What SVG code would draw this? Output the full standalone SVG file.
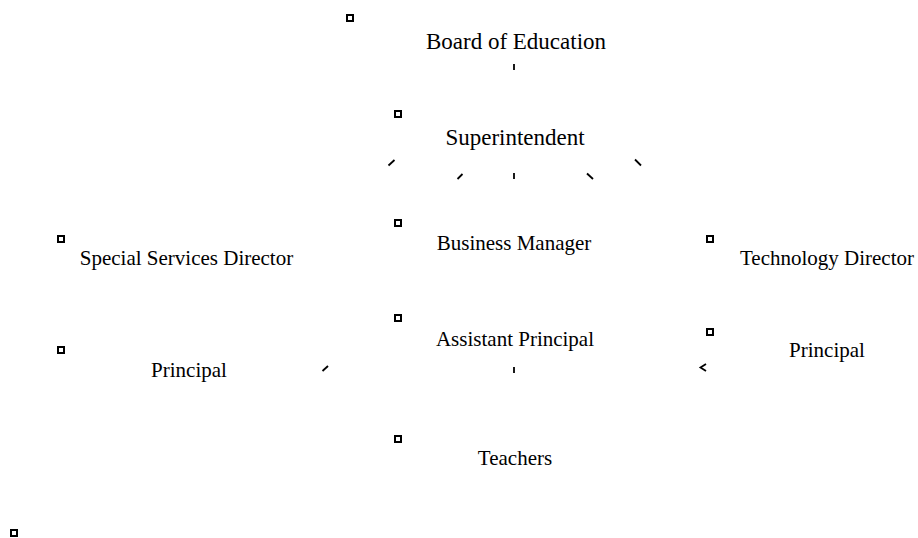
<svg xmlns="http://www.w3.org/2000/svg" width="918" height="538" viewBox="0 0 918 538">
<style>
.bg{fill:#ffffff}
.mk{fill:#ffffff;stroke:#000000;stroke-width:2}
.t{font-family:"Liberation Serif","Times New Roman",serif;fill:#000000;font-size:21px;text-anchor:middle}
.big{font-size:23px}
.c{stroke:#000000;stroke-width:1.8;fill:none;stroke-linecap:butt}
</style>
<rect class="bg" x="0" y="0" width="918" height="538"/>
<g id="connectors">
<line class="c" x1="514" y1="64" x2="514" y2="70"/>
<line class="c" x1="388.5" y1="165.5" x2="394.5" y2="160"/>
<line class="c" x1="457.5" y1="179" x2="462.5" y2="174"/>
<line class="c" x1="514" y1="173" x2="514" y2="179"/>
<line class="c" x1="587" y1="173.5" x2="593" y2="179"/>
<line class="c" x1="635" y1="159.5" x2="641" y2="165.5"/>
<line class="c" x1="322.5" y1="371" x2="328" y2="366"/>
<line class="c" x1="514" y1="367" x2="514" y2="373"/>
<polyline class="c" points="706,364 700.5,367.5 706,371"/>
</g>
<g id="board">
<rect class="mk" x="347" y="15" width="6" height="6"/>
<text class="t big" x="516" y="49">Board of Education</text>
</g>
<g id="superintendent">
<rect class="mk" x="395" y="111" width="6" height="6"/>
<text class="t big" x="515" y="145">Superintendent</text>
</g>
<g id="special-services">
<rect class="mk" x="58" y="236" width="6" height="6"/>
<text class="t" x="186.5" y="265">Special Services Director</text>
</g>
<g id="business-manager">
<rect class="mk" x="395" y="220" width="6" height="6"/>
<text class="t" x="514" y="250">Business Manager</text>
</g>
<g id="technology-director">
<rect class="mk" x="707" y="236" width="6" height="6"/>
<text class="t" x="827" y="265">Technology Director</text>
</g>
<g id="principal-left">
<rect class="mk" x="58" y="347" width="6" height="6"/>
<text class="t" x="189" y="377">Principal</text>
</g>
<g id="assistant-principal">
<rect class="mk" x="395" y="315" width="6" height="6"/>
<text class="t" x="515" y="346">Assistant Principal</text>
</g>
<g id="principal-right">
<rect class="mk" x="707" y="329" width="6" height="6"/>
<text class="t" x="827" y="357">Principal</text>
</g>
<g id="teachers">
<rect class="mk" x="395" y="436" width="6" height="6"/>
<text class="t" x="515" y="465">Teachers</text>
</g>
<g id="corner-marker">
<rect class="mk" x="11" y="530" width="6" height="6"/>
</g>
</svg>
